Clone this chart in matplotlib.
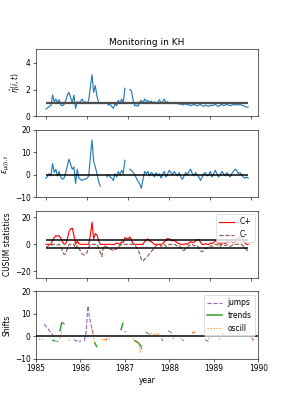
import numpy as np
import matplotlib
matplotlib.use('Agg')
import matplotlib.pyplot as plt

nan = np.nan

# eta(i,t) estimates (weekly index)
eta = [0.55, 0.65, 0.75, 0.8, 1.6, 1.1, 1.3, 1.0, 1.25, 0.85,
       0.8, 0.9, 1.2, 1.6, 1.8, 1.4, 1.0, 1.6, 0.6, 1.1,
       1.0, 1.15, 1.3, 1.0, 1.1, 1.0, 1.2, 2.2, 3.1, 1.8,
       2.3, 1.5, 1.05, 0.95, nan, nan, nan, 1.0, 0.85, 0.9,
       0.75, 0.6, 0.95, 0.8, 1.2, 1.0, 1.3, 1.0, 2.1, nan,
       nan, 2.0, 1.9, 1.2, 0.8, 0.85, 0.75, 1.1, 1.2, 1.0,
       1.3, 1.1, 1.2, 1.05, 1.15, 1.0, 1.1, 0.95, 1.05, 1.25,
       1.0, 1.1, 1.3, 1.05, 1.1, 1.0, 1.0, 0.95, 1.05, 0.95,
       1.0, 0.9, 0.95, 0.85, 0.9, 0.95, 0.85, 0.9, 0.8, 0.85,
       0.9, 0.85, 0.8, 0.85, 0.9, 0.8, 0.75, 0.85, 0.8, 0.75,
       0.85, 0.8, 0.85, 0.9, 0.8, 0.75, 0.85, 0.9, 0.8, 0.85,
       0.9, 0.85, 0.8, 0.85, 0.9, 0.85, 0.9, 0.85, 0.9, 0.85,
       0.8, 0.75, 0.7, 0.7]

# residuals eps_{mu(i),t}
eps = [-1.5, -0.5, 0.5, -0.5, 5.0, 1.0, 2.5, -0.5, 1.5, -1.0,
       -2.0, -1.5, 1.0, 4.0, 7.0, 4.5, 2.5, 3.5, -4.0, 2.5,
       -1.5, -2.0, -2.5, -2.0, -2.0, -1.5, -0.5, 8.0, 15.5, 6.0,
       3.5, 0.5, -3.0, -5.0, nan, nan, nan, -1.0, 0.0, -1.0,
       -1.5, -2.5, 0.5, -1.0, 1.5, 0.0, 2.0, 0.5, 6.5, nan,
       nan, 2.5, 2.0, 1.0, 0.0, -1.5, -3.0, -4.0, -6.0, -2.0,
       1.5, 0.5, 1.5, -0.5, 1.0, 0.5, -1.0, 1.0, -0.5, 0.5,
       -1.5, 0.5, 1.5, -1.0, 0.5, 2.0, 1.0, 0.0, 1.5, 0.5,
       -0.5, 1.0, -1.0, -2.0, -0.5, 1.0, 0.0, 1.5, 2.5, 0.5,
       -0.5, 1.0, 0.0, -1.0, -2.5, -1.0, 0.5, 1.0, -0.5, 0.0,
       1.5, -1.0, 0.5, 2.0, 0.5, -1.0, 0.0, 1.5, 0.5, -0.5,
       1.0, 0.0, -1.0, 0.5, 1.5, 2.5, 2.0, 0.5, 1.0, 0.0,
       -1.0, -1.5, -1.0, -1.5]

# CUSUM statistics
c_plus = [0, 0, 0, 0, 3.0, 5.0, 6.5, 6.0, 6.5, 4.5,
          2.0, 0, 0.5, 4.0, 9.5, 11.5, 12.0, 6.5, 0, 2.5,
          0.5, 0, 0, 0, 0, 0, 0, 7.0, 16.5, 4.0,
          8.0, 7.0, 3.0, 0, 0, 0, 0, 0, 0, 0,
          0, 0, 0, 1.0, 0.5, 0, 2.0, 1.5, 5.0, 4.5,
          4.0, 5.5, 3.0, 0.5, 0, 0, 0, 0, 0, 0,
          2.0, 3.5, 4.0, 2.5, 2.0, 1.0, 0, 0, 0, 0,
          0, 0.5, 2.0, 3.0, 4.5, 4.0, 3.5, 2.5, 3.0, 2.0,
          1.0, 0.5, 0, 0, 0, 0.5, 0, 1.0, 2.0, 1.5,
          1.5, 2.5, 3.5, 3.5, 1.5, 0, 0, 0.5, 0, 0,
          1.0, 0.5, 1.5, 2.5, 2.0, 0.5, 0, 1.0, 1.5, 0.5,
          1.5, 2.5, 3.0, 2.0, 1.0, 2.0, 3.5, 4.5, 5.5, 5.0,
          3.5, 1.0, 0, 0]
c_minus = [-2.0, -1.5, -0.5, -1.0, 0, 0, 0, -0.5, 0, -1.5,
           -5.0, -7.5, -7.0, -3.0, 0, 0, 0, 0, -3.5, -1.0,
           -3.0, -5.0, -7.0, -8.0, -7.5, -6.0, -2.0, 0, 0, 0,
           0, 0, -2.5, -6.0, -9.0, -1.0, -1.5, -2.0, -2.5, -3.5,
           -4.0, -5.0, -3.5, -3.5, -2.0, -1.0, 0, 0, 0, 0,
           0, 0, 0, 0, -0.5, -2.0, -4.0, -7.0, -11.0, -12.5,
           -11.0, -10.0, -8.5, -7.0, -5.5, -4.0, -2.5, -1.0, 0, 0,
           -1.5, -0.5, 0, -1.5, -1.0, 0, 0, -0.5, 0, -0.5,
           -1.5, -1.0, -2.5, -4.5, -4.5, -3.0, -2.5, -1.0, 0, 0,
           -1.0, -0.5, -1.0, -2.5, -5.0, -5.5, -4.5, -3.0, -3.0, -2.5,
           -1.0, -1.5, -1.0, 0, 0, -1.5, -1.5, 0, 0, -1.0,
           -0.5, -0.5, -1.5, -1.0, 0, 0, 0, 0, 0, 0,
           -1.5, -3.0, -4.0, -5.0]
h_limit = 3.0

# estimated shifts by type
jumps = [nan, nan, nan, 5.5, 4.5, 3.5, 2.5, 1.5, 0.5, nan,
         -2.0, -2.5, nan, 5.5, 6.0, 4.5, nan, nan, nan, nan,
         -1.5, -2.0, -2.0, -2.5, -2.0, nan, -2.0, 2.0, 13.5, 8.0,
         4.5, 1.0, nan, nan, nan, nan, nan, nan, -1.5, -1.0,
         nan, nan, nan, nan, nan, nan, nan, nan, nan, 2.0,
         2.0, nan, nan, nan, nan, nan, nan, nan, -4.0, -5.5,
         nan, 2.0, 1.5, 1.0, nan, nan, nan, nan, nan, nan,
         -1.0, -2.0, nan, nan, 2.5, 2.0, 1.5, nan, nan, nan,
         nan, nan, -1.5, -2.0, nan, nan, nan, nan, 1.5, 2.0,
         nan, nan, nan, nan, nan, -1.5, -2.0, -2.0, nan, nan,
         nan, nan, nan, nan, nan, 0.5, 1.5, nan, nan, 1.5,
         1.5, nan, nan, nan, nan, nan, nan, 1.5, 2.0, 2.0,
         1.5, nan, -1.0, -1.5]
trends = [nan, nan, nan, nan, nan, nan, nan, nan, -1.8, -2.0,
          nan, nan, 2.5, 6.0, nan, nan, nan, nan, nan, nan,
          nan, nan, nan, nan, nan, nan, nan, nan, nan, nan,
          nan, nan, -3.0, -4.5, nan, nan, nan, nan, nan, nan,
          nan, nan, nan, nan, nan, nan, nan, 3.0, 5.8, nan,
          nan, nan, nan, nan, nan, -2.0, -2.5, -3.0, -4.0, nan,
          nan, nan, nan, nan, nan, nan, nan, nan, nan, nan,
          nan, nan, nan, nan, nan, nan, nan, nan, nan, nan,
          nan, nan, nan, nan, nan, nan, nan, nan, nan, nan,
          nan, nan, nan, nan, nan, nan, nan, nan, nan, nan,
          nan, nan, nan, nan, nan, nan, nan, nan, nan, nan,
          nan, nan, nan, nan, nan, nan, nan, nan, nan, nan,
          nan, nan, nan, nan]
oscill = [-1.5, -1.0, -1.5, nan, nan, nan, nan, nan, nan, nan,
          nan, nan, -1.0, 2.0, nan, nan, nan, -1.5, -2.0, nan,
          nan, nan, nan, nan, nan, nan, nan, nan, nan, nan,
          4.5, 0.5, -3.5, nan, nan, nan, -1.5, -1.0, -2.0, -1.5,
          -1.0, -1.5, nan, nan, nan, 0.0, 1.0, nan, nan, nan,
          nan, nan, nan, nan, -1.0, -2.5, nan, -3.0, -7.0, -4.0,
          nan, nan, nan, 0.5, 1.5, 0.0, 1.0, 0.5, 1.5, 0.0,
          nan, nan, nan, nan, nan, nan, 0.5, -1.0, 0.0, nan,
          nan, -1.0, -1.5, nan, -1.0, nan, nan, 0.0, 1.5, 2.0,
          1.0, nan, nan, nan, nan, nan, nan, -1.0, 0.0, nan,
          nan, nan, nan, -1.0, -2.0, nan, nan, nan, nan, nan,
          nan, nan, nan, nan, nan, nan, nan, nan, nan, nan,
          2.0, 0.5, -1.5, -2.0]

year_first = 1985.07
year_last = 1989.9

idx = np.arange(len(eta))
years = np.linspace(year_first, year_last, len(eta))

# drawn big, saved small
dpi = 54
fig, axs = plt.subplots(4, 1, figsize=(287/dpi, 410/dpi))
plt.subplots_adjust(bottom=0.125, top=0.88)

ax = axs[0]
ax.plot(idx, eta)
ax.hlines(1, idx[0], idx[-1], color='0.3', lw=3)
ax.set_ylim(0, 5)
ax.set_yticks([0, 2, 4])
ax.set_ylabel(r'$\hat{\eta}(i,t)$')
ax.set_title('Monitoring in KH')

ax = axs[1]
ax.plot(idx, eps)
ax.hlines(0, idx[0], idx[-1], color='k', lw=2)
ax.set_ylim(-10, 20)
ax.set_ylabel(r'$\hat{\epsilon}_{\mu(i),t}$')

ax = axs[2]
ax.plot(idx, c_plus, color='red', label='C+')
ax.plot(idx, c_minus, color='tab:brown', ls='--', label='C-')
ax.hlines([h_limit, -h_limit], idx[0], idx[-1], color='k', lw=2)
ax.set_ylim(-25, 25)
ax.set_ylabel('CUSUM statistics')
ax.legend(loc='upper right')

for ax in axs[:3]:
    ax.set_xticks(np.arange(0, 126, 25))
    ax.set_xticklabels([])

ax = axs[3]
ax.plot(years, jumps, color='tab:purple', ls='--', label='jumps')
ax.plot(years, trends, color='tab:green', ls='-', lw=2, label='trends')
ax.plot(years, oscill, color='tab:orange', ls=':', label='oscill')
ax.axhline(0, color='k', lw=2)
ax.set_xlim(1985, 1990)
ax.set_ylim(-10, 20)
ax.set_ylabel('Shifts')
ax.set_xlabel('year')
ax.legend(loc='upper right')

plt.savefig('out.png', dpi=dpi)
